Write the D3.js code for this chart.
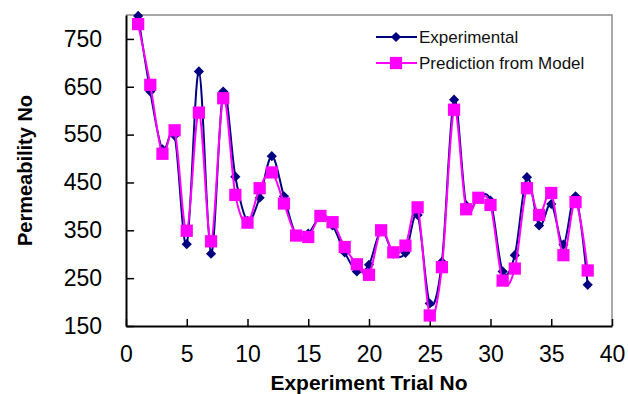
<!DOCTYPE html>
<html>
<head>
<meta charset="utf-8">
<script src="https://cdn.jsdelivr.net/npm/d3@7"></script>
<style>
  body { margin: 0; background: #fff; }
  text { font-family: 'Liberation Sans', Arial, sans-serif; }
</style>
</head>
<body>
<div id="chart"></div>
<script>
const trials = [1, 2, 3, 4, 5, 6, 7, 8, 9, 10, 11, 12, 13, 14, 15, 16, 17, 18, 19, 20,
  21, 22, 23, 24, 25, 26, 27, 28, 29, 30, 31, 32, 33, 34, 35, 36, 37, 38]
const experimental = [798, 640, 519, 548, 321, 682, 301, 640, 462, 370, 418, 505, 421, 340, 343, 378, 360, 304, 264, 278,
  350, 301, 303, 382, 197, 284, 623, 402, 418, 412, 264, 298, 461, 360, 405, 320, 421, 236]
const prediction = [781, 654, 510, 559, 349, 596, 327, 626, 424, 366, 438, 471, 406, 339, 336, 380, 367, 315, 279, 257,
  350, 304, 318, 398, 172, 273, 602, 394, 418, 403, 245, 270, 438, 382, 428, 298, 409, 266]
const xTicks = [0, 5, 10, 15, 20, 25, 30, 35, 40]
const yTicks = [150, 250, 350, 450, 550, 650, 750]
const seriesNames = ['Experimental', 'Prediction from Model']

const margin = { top: 15, left: 126, right: 16, bottom: 68 }
const width = 628 - margin.left - margin.right
const height = 394 - margin.top - margin.bottom

const svg = d3
  .select('#chart')
  .append('svg')
  .attr('width', 628)
  .attr('height', 394)

const g = svg.append('g').attr('transform', `translate(${margin.left},${margin.top})`)

const x = d3.scaleLinear().domain([0, 40]).range([0, width])
const y = d3.scaleLinear().domain([150, 800]).range([height, 0])

// gray frame on top and right
g.append('path')
  .attr('d', `M0,0H${width}V${height}`)
  .attr('fill', 'none')
  .attr('stroke', '#8c8c8c')
  .attr('stroke-width', 1.5)

const xAxis = g
  .append('g')
  .attr('transform', `translate(0,${height})`)
  .call(d3.axisBottom(x).tickValues(xTicks).tickSizeInner(-7).tickSizeOuter(0).tickPadding(20))
const yAxis = g
  .append('g')
  .call(d3.axisLeft(y).tickValues(yTicks).tickSizeInner(-8).tickSizeOuter(0).tickPadding(24))

;[xAxis, yAxis].forEach(a => {
  a.select('.domain').attr('stroke', '#000').attr('stroke-width', 2)
  a.selectAll('.tick line').attr('stroke', '#000').attr('stroke-width', 1.5)
  a.selectAll('text')
    .attr('fill', '#000')
    .style('font-size', '23px')
    .style('font-family', "'Liberation Sans', Arial, sans-serif")
})

const line = d3
  .line()
  .x((d, i) => x(trials[i]))
  .y(d => y(d))
  .curve(d3.curveCardinal.tension(0))

const diamond = d3.symbol().type(d3.symbolSquare).size(52)
const square = d3.symbol().type(d3.symbolSquare).size(150)

// experimental
g.append('path')
  .datum(experimental)
  .attr('d', line)
  .attr('fill', 'none')
  .attr('stroke', '#000080')
  .attr('stroke-width', 2)

g.selectAll('.exp')
  .data(experimental)
  .enter()
  .append('path')
  .attr('class', 'exp')
  .attr('d', diamond)
  .attr('fill', '#000080')
  .attr('transform', (d, i) => `translate(${x(trials[i])},${y(d)}) rotate(45)`)

// prediction
g.append('path')
  .datum(prediction)
  .attr('d', line)
  .attr('fill', 'none')
  .attr('stroke', '#ff00ff')
  .attr('stroke-width', 2)

g.selectAll('.pred')
  .data(prediction)
  .enter()
  .append('path')
  .attr('class', 'pred')
  .attr('d', square)
  .attr('fill', '#ff00ff')
  .attr('transform', (d, i) => `translate(${x(trials[i])},${y(d)})`)

// legend
const legend = svg.append('g').attr('transform', 'translate(376,37)')
const legendItems = [
  { name: seriesNames[0], color: '#000080', sym: diamond, rot: 45 },
  { name: seriesNames[1], color: '#ff00ff', sym: square, rot: 0 }
]
legendItems.forEach((item, i) => {
  const row = legend.append('g').attr('transform', `translate(0,${i * 26})`)
  row.append('line')
    .attr('x1', 0).attr('x2', 41)
    .attr('stroke', item.color)
    .attr('stroke-width', 2)
  row.append('path')
    .attr('d', item.sym)
    .attr('fill', item.color)
    .attr('transform', `translate(20,0) rotate(${item.rot})`)
  row.append('text')
    .attr('x', 43)
    .attr('dy', '0.35em')
    .style('font-size', '17px')
    .attr('fill', '#111')
    .text(item.name)
})

// axis titles
svg.append('text')
  .attr('transform', `translate(32,${margin.top + height / 2}) rotate(-90)`)
  .attr('text-anchor', 'middle')
  .style('font-size', '20px')
  .style('font-weight', 'bold')
  .text('Permeability No')

svg.append('text')
  .attr('x', margin.left + width / 2)
  .attr('y', 390)
  .attr('text-anchor', 'middle')
  .style('font-size', '21px')
  .style('font-weight', 'bold')
  .text('Experiment Trial No')
</script>
</body>
</html>
